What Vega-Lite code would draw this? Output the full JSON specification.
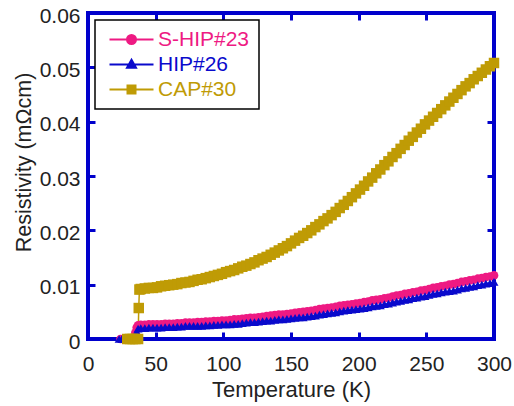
{
  "$schema": "https://vega.github.io/schema/vega-lite/v6.json",
  "width": 406,
  "height": 326,
  "autosize": "none",
  "padding": {"left": 88, "top": 13, "right": 20, "bottom": 67},
  "config": {
    "font": "Liberation Sans",
    "view": {"stroke": "#0000cc", "strokeWidth": 4},
    "legend": {
      "title": null, "orient": "top-left", "offset": 7, "padding": 9, "rowPadding": 3,
      "strokeColor": "#000000", "fillColor": "#ffffff", "cornerRadius": 0,
      "labelFontSize": 21, "labelOffset": 33, "symbolSize": 100, "labelLimit": 300
    }
  },
  "data": {"values": [
    {"s":"S-HIP#23","T":24,"r":0},{"s":"S-HIP#23","T":26,"r":0},{"s":"S-HIP#23","T":28,"r":0},{"s":"S-HIP#23","T":30,"r":0},{"s":"S-HIP#23","T":32,"r":0},{"s":"S-HIP#23","T":34,"r":0},{"s":"S-HIP#23","T":35,"r":0.0012},{"s":"S-HIP#23","T":36,"r":0.0021},{"s":"S-HIP#23","T":37,"r":0.0025},
    {"s":"S-HIP#23","T":39,"r":0.0026},{"s":"S-HIP#23","T":42,"r":0.0026},{"s":"S-HIP#23","T":45,"r":0.0027},{"s":"S-HIP#23","T":48,"r":0.0027},{"s":"S-HIP#23","T":51,"r":0.0027},{"s":"S-HIP#23","T":54,"r":0.0027},{"s":"S-HIP#23","T":57,"r":0.0028},{"s":"S-HIP#23","T":60,"r":0.0028},{"s":"S-HIP#23","T":63,"r":0.0028},{"s":"S-HIP#23","T":66,"r":0.0029},{"s":"S-HIP#23","T":69,"r":0.0029},{"s":"S-HIP#23","T":72,"r":0.0030},{"s":"S-HIP#23","T":75,"r":0.0030},{"s":"S-HIP#23","T":78,"r":0.0030},{"s":"S-HIP#23","T":81,"r":0.0031},{"s":"S-HIP#23","T":84,"r":0.0031},{"s":"S-HIP#23","T":87,"r":0.0032},{"s":"S-HIP#23","T":90,"r":0.0032},{"s":"S-HIP#23","T":93,"r":0.0033},{"s":"S-HIP#23","T":96,"r":0.0033},{"s":"S-HIP#23","T":99,"r":0.0034},{"s":"S-HIP#23","T":102,"r":0.0034},{"s":"S-HIP#23","T":105,"r":0.0035},{"s":"S-HIP#23","T":108,"r":0.0036},{"s":"S-HIP#23","T":111,"r":0.0036},{"s":"S-HIP#23","T":114,"r":0.0037},{"s":"S-HIP#23","T":117,"r":0.0038},{"s":"S-HIP#23","T":120,"r":0.0039},{"s":"S-HIP#23","T":123,"r":0.0039},{"s":"S-HIP#23","T":126,"r":0.0040},{"s":"S-HIP#23","T":129,"r":0.0041},{"s":"S-HIP#23","T":132,"r":0.0042},{"s":"S-HIP#23","T":135,"r":0.0043},{"s":"S-HIP#23","T":138,"r":0.0044},{"s":"S-HIP#23","T":141,"r":0.0045},{"s":"S-HIP#23","T":144,"r":0.0045},{"s":"S-HIP#23","T":147,"r":0.0046},{"s":"S-HIP#23","T":150,"r":0.0047},{"s":"S-HIP#23","T":153,"r":0.0048},{"s":"S-HIP#23","T":156,"r":0.0049},{"s":"S-HIP#23","T":159,"r":0.0050},{"s":"S-HIP#23","T":162,"r":0.0051},{"s":"S-HIP#23","T":165,"r":0.0052},{"s":"S-HIP#23","T":168,"r":0.0053},{"s":"S-HIP#23","T":171,"r":0.0055},{"s":"S-HIP#23","T":174,"r":0.0056},{"s":"S-HIP#23","T":177,"r":0.0057},{"s":"S-HIP#23","T":180,"r":0.0058},{"s":"S-HIP#23","T":183,"r":0.0059},{"s":"S-HIP#23","T":186,"r":0.0061},{"s":"S-HIP#23","T":189,"r":0.0062},{"s":"S-HIP#23","T":192,"r":0.0063},{"s":"S-HIP#23","T":195,"r":0.0064},{"s":"S-HIP#23","T":198,"r":0.0065},{"s":"S-HIP#23","T":201,"r":0.0066},{"s":"S-HIP#23","T":204,"r":0.0068},{"s":"S-HIP#23","T":207,"r":0.0069},{"s":"S-HIP#23","T":210,"r":0.0071},{"s":"S-HIP#23","T":213,"r":0.0072},{"s":"S-HIP#23","T":216,"r":0.0073},{"s":"S-HIP#23","T":219,"r":0.0075},{"s":"S-HIP#23","T":222,"r":0.0076},{"s":"S-HIP#23","T":225,"r":0.0078},{"s":"S-HIP#23","T":228,"r":0.0080},{"s":"S-HIP#23","T":231,"r":0.0081},{"s":"S-HIP#23","T":234,"r":0.0083},{"s":"S-HIP#23","T":237,"r":0.0084},{"s":"S-HIP#23","T":240,"r":0.0086},{"s":"S-HIP#23","T":243,"r":0.0087},{"s":"S-HIP#23","T":246,"r":0.0089},{"s":"S-HIP#23","T":249,"r":0.0090},{"s":"S-HIP#23","T":252,"r":0.0092},{"s":"S-HIP#23","T":255,"r":0.0094},{"s":"S-HIP#23","T":258,"r":0.0095},{"s":"S-HIP#23","T":261,"r":0.0097},{"s":"S-HIP#23","T":264,"r":0.0098},{"s":"S-HIP#23","T":267,"r":0.0100},{"s":"S-HIP#23","T":270,"r":0.0101},{"s":"S-HIP#23","T":273,"r":0.0103},{"s":"S-HIP#23","T":276,"r":0.0105},{"s":"S-HIP#23","T":279,"r":0.0106},{"s":"S-HIP#23","T":282,"r":0.0108},{"s":"S-HIP#23","T":285,"r":0.0109},{"s":"S-HIP#23","T":288,"r":0.0111},{"s":"S-HIP#23","T":291,"r":0.0112},{"s":"S-HIP#23","T":294,"r":0.0114},{"s":"S-HIP#23","T":297,"r":0.0115},{"s":"S-HIP#23","T":300,"r":0.0117},
    {"s":"HIP#26","T":23,"r":0},{"s":"HIP#26","T":25,"r":0},{"s":"HIP#26","T":27,"r":0},{"s":"HIP#26","T":29,"r":0},{"s":"HIP#26","T":31,"r":0},{"s":"HIP#26","T":33,"r":0},{"s":"HIP#26","T":35,"r":0},{"s":"HIP#26","T":36,"r":0.0013},{"s":"HIP#26","T":37,"r":0.0019},
    {"s":"HIP#26","T":39,"r":0.0020},{"s":"HIP#26","T":42,"r":0.0020},{"s":"HIP#26","T":45,"r":0.0021},{"s":"HIP#26","T":48,"r":0.0021},{"s":"HIP#26","T":51,"r":0.0021},{"s":"HIP#26","T":54,"r":0.0021},{"s":"HIP#26","T":57,"r":0.0022},{"s":"HIP#26","T":60,"r":0.0022},{"s":"HIP#26","T":63,"r":0.0022},{"s":"HIP#26","T":66,"r":0.0023},{"s":"HIP#26","T":69,"r":0.0023},{"s":"HIP#26","T":72,"r":0.0024},{"s":"HIP#26","T":75,"r":0.0024},{"s":"HIP#26","T":78,"r":0.0024},{"s":"HIP#26","T":81,"r":0.0024},{"s":"HIP#26","T":84,"r":0.0024},{"s":"HIP#26","T":87,"r":0.0025},{"s":"HIP#26","T":90,"r":0.0025},{"s":"HIP#26","T":93,"r":0.0026},{"s":"HIP#26","T":96,"r":0.0026},{"s":"HIP#26","T":99,"r":0.0027},{"s":"HIP#26","T":102,"r":0.0027},{"s":"HIP#26","T":105,"r":0.0027},{"s":"HIP#26","T":108,"r":0.0028},{"s":"HIP#26","T":111,"r":0.0028},{"s":"HIP#26","T":114,"r":0.0029},{"s":"HIP#26","T":117,"r":0.0030},{"s":"HIP#26","T":120,"r":0.0031},{"s":"HIP#26","T":123,"r":0.0031},{"s":"HIP#26","T":126,"r":0.0032},{"s":"HIP#26","T":129,"r":0.0033},{"s":"HIP#26","T":132,"r":0.0034},{"s":"HIP#26","T":135,"r":0.0034},{"s":"HIP#26","T":138,"r":0.0035},{"s":"HIP#26","T":141,"r":0.0036},{"s":"HIP#26","T":144,"r":0.0036},{"s":"HIP#26","T":147,"r":0.0037},{"s":"HIP#26","T":150,"r":0.0038},{"s":"HIP#26","T":153,"r":0.0039},{"s":"HIP#26","T":156,"r":0.0040},{"s":"HIP#26","T":159,"r":0.0040},{"s":"HIP#26","T":162,"r":0.0041},{"s":"HIP#26","T":165,"r":0.0042},{"s":"HIP#26","T":168,"r":0.0043},{"s":"HIP#26","T":171,"r":0.0045},{"s":"HIP#26","T":174,"r":0.0046},{"s":"HIP#26","T":177,"r":0.0047},{"s":"HIP#26","T":180,"r":0.0048},{"s":"HIP#26","T":183,"r":0.0049},{"s":"HIP#26","T":186,"r":0.0051},{"s":"HIP#26","T":189,"r":0.0052},{"s":"HIP#26","T":192,"r":0.0053},{"s":"HIP#26","T":195,"r":0.0054},{"s":"HIP#26","T":198,"r":0.0055},{"s":"HIP#26","T":201,"r":0.0056},{"s":"HIP#26","T":204,"r":0.0057},{"s":"HIP#26","T":207,"r":0.0058},{"s":"HIP#26","T":210,"r":0.0060},{"s":"HIP#26","T":213,"r":0.0061},{"s":"HIP#26","T":216,"r":0.0062},{"s":"HIP#26","T":219,"r":0.0064},{"s":"HIP#26","T":222,"r":0.0065},{"s":"HIP#26","T":225,"r":0.0067},{"s":"HIP#26","T":228,"r":0.0069},{"s":"HIP#26","T":231,"r":0.0070},{"s":"HIP#26","T":234,"r":0.0072},{"s":"HIP#26","T":237,"r":0.0073},{"s":"HIP#26","T":240,"r":0.0075},{"s":"HIP#26","T":243,"r":0.0076},{"s":"HIP#26","T":246,"r":0.0078},{"s":"HIP#26","T":249,"r":0.0079},{"s":"HIP#26","T":252,"r":0.0081},{"s":"HIP#26","T":255,"r":0.0083},{"s":"HIP#26","T":258,"r":0.0084},{"s":"HIP#26","T":261,"r":0.0086},{"s":"HIP#26","T":264,"r":0.0087},{"s":"HIP#26","T":267,"r":0.0088},{"s":"HIP#26","T":270,"r":0.0089},{"s":"HIP#26","T":273,"r":0.0091},{"s":"HIP#26","T":276,"r":0.0093},{"s":"HIP#26","T":279,"r":0.0094},{"s":"HIP#26","T":282,"r":0.0096},{"s":"HIP#26","T":285,"r":0.0097},{"s":"HIP#26","T":288,"r":0.0099},{"s":"HIP#26","T":291,"r":0.0100},{"s":"HIP#26","T":294,"r":0.0102},{"s":"HIP#26","T":297,"r":0.0103},{"s":"HIP#26","T":300,"r":0.0105},
    {"s":"CAP#30","T":29,"r":0},{"s":"CAP#30","T":31,"r":0},{"s":"CAP#30","T":33,"r":0},{"s":"CAP#30","T":35,"r":0},{"s":"CAP#30","T":37,"r":0},{"s":"CAP#30","T":37.5,"r":0.0057},{"s":"CAP#30","T":38,"r":0.0091},
    {"s":"CAP#30","T":39,"r":0.0092},{"s":"CAP#30","T":42,"r":0.0093},{"s":"CAP#30","T":45,"r":0.0094},{"s":"CAP#30","T":48,"r":0.0094},{"s":"CAP#30","T":51,"r":0.0095},{"s":"CAP#30","T":54,"r":0.0097},{"s":"CAP#30","T":57,"r":0.0098},{"s":"CAP#30","T":60,"r":0.0099},{"s":"CAP#30","T":63,"r":0.0100},{"s":"CAP#30","T":66,"r":0.0101},{"s":"CAP#30","T":69,"r":0.0103},{"s":"CAP#30","T":72,"r":0.0104},{"s":"CAP#30","T":75,"r":0.0105},{"s":"CAP#30","T":78,"r":0.0107},{"s":"CAP#30","T":81,"r":0.0109},{"s":"CAP#30","T":84,"r":0.0110},{"s":"CAP#30","T":87,"r":0.0112},{"s":"CAP#30","T":90,"r":0.0114},{"s":"CAP#30","T":93,"r":0.0116},{"s":"CAP#30","T":96,"r":0.0118},{"s":"CAP#30","T":99,"r":0.0120},{"s":"CAP#30","T":102,"r":0.0123},{"s":"CAP#30","T":105,"r":0.0125},{"s":"CAP#30","T":108,"r":0.0127},{"s":"CAP#30","T":111,"r":0.0130},{"s":"CAP#30","T":114,"r":0.0133},{"s":"CAP#30","T":117,"r":0.0135},{"s":"CAP#30","T":120,"r":0.0138},{"s":"CAP#30","T":123,"r":0.0141},{"s":"CAP#30","T":126,"r":0.0145},{"s":"CAP#30","T":129,"r":0.0148},{"s":"CAP#30","T":132,"r":0.0151},{"s":"CAP#30","T":135,"r":0.0155},{"s":"CAP#30","T":138,"r":0.0159},{"s":"CAP#30","T":141,"r":0.0163},{"s":"CAP#30","T":144,"r":0.0167},{"s":"CAP#30","T":147,"r":0.0171},{"s":"CAP#30","T":150,"r":0.0176},{"s":"CAP#30","T":153,"r":0.0181},{"s":"CAP#30","T":156,"r":0.0186},{"s":"CAP#30","T":159,"r":0.0190},{"s":"CAP#30","T":162,"r":0.0195},{"s":"CAP#30","T":165,"r":0.0200},{"s":"CAP#30","T":168,"r":0.0206},{"s":"CAP#30","T":171,"r":0.0211},{"s":"CAP#30","T":174,"r":0.0217},{"s":"CAP#30","T":177,"r":0.0222},{"s":"CAP#30","T":180,"r":0.0228},{"s":"CAP#30","T":183,"r":0.0234},{"s":"CAP#30","T":186,"r":0.0241},{"s":"CAP#30","T":189,"r":0.0247},{"s":"CAP#30","T":192,"r":0.0254},{"s":"CAP#30","T":195,"r":0.0261},{"s":"CAP#30","T":198,"r":0.0268},{"s":"CAP#30","T":201,"r":0.0275},{"s":"CAP#30","T":204,"r":0.0282},{"s":"CAP#30","T":207,"r":0.0290},{"s":"CAP#30","T":210,"r":0.0297},{"s":"CAP#30","T":213,"r":0.0305},{"s":"CAP#30","T":216,"r":0.0312},{"s":"CAP#30","T":219,"r":0.0320},{"s":"CAP#30","T":222,"r":0.0327},{"s":"CAP#30","T":225,"r":0.0335},{"s":"CAP#30","T":228,"r":0.0342},{"s":"CAP#30","T":231,"r":0.0350},{"s":"CAP#30","T":234,"r":0.0357},{"s":"CAP#30","T":237,"r":0.0365},{"s":"CAP#30","T":240,"r":0.0372},{"s":"CAP#30","T":243,"r":0.0380},{"s":"CAP#30","T":246,"r":0.0387},{"s":"CAP#30","T":249,"r":0.0395},{"s":"CAP#30","T":252,"r":0.0402},{"s":"CAP#30","T":255,"r":0.0409},{"s":"CAP#30","T":258,"r":0.0416},{"s":"CAP#30","T":261,"r":0.0423},{"s":"CAP#30","T":264,"r":0.0430},{"s":"CAP#30","T":267,"r":0.0437},{"s":"CAP#30","T":270,"r":0.0444},{"s":"CAP#30","T":273,"r":0.0451},{"s":"CAP#30","T":276,"r":0.0458},{"s":"CAP#30","T":279,"r":0.0465},{"s":"CAP#30","T":282,"r":0.0471},{"s":"CAP#30","T":285,"r":0.0478},{"s":"CAP#30","T":288,"r":0.0484},{"s":"CAP#30","T":291,"r":0.0490},{"s":"CAP#30","T":294,"r":0.0496},{"s":"CAP#30","T":297,"r":0.0502},{"s":"CAP#30","T":300,"r":0.0508}
  ]},
  "layer": [
    {
      "mark": {"type": "line", "strokeWidth": 1.5},
      "encoding": {
        "x": {"field": "T", "type": "quantitative", "scale": {"domain": [0, 300], "nice": false, "zero": false},
              "axis": {"orient": "top", "values": [0, 50, 100, 150, 200, 250, 300], "labels": false, "title": null, "domain": false, "grid": false, "tickSize": -7, "tickWidth": 3, "tickColor": "#0000cc"}},
        "y": {"field": "r", "type": "quantitative", "scale": {"domain": [0, 0.06], "nice": false},
              "axis": {"orient": "right", "values": [0, 0.01, 0.02, 0.03, 0.04, 0.05, 0.06], "labels": false, "title": null, "domain": false, "grid": false, "tickSize": -7, "tickWidth": 3, "tickColor": "#0000cc"}},
        "color": {"field": "s", "type": "nominal",
                  "scale": {"domain": ["S-HIP#23", "HIP#26", "CAP#30"], "range": ["#ee1a83", "#0a0acc", "#bf9b05"]},
                  "legend": {"encode": {
                               "legend": {"update": {"strokeWidth": {"value": 1.5}}},
                               "symbols": {"update": {
                                 "shape": {"signal": "datum.value === 'S-HIP#23' ? 'M-1,0H7.8M2.5,0A0.9,0.9,0,1,0,4.3,0A0.9,0.9,0,1,0,2.5,0Z' : (datum.value === 'HIP#26' ? 'M-1,0H7.8M3.4,-0.95L4.3,0.65L2.5,0.65Z' : 'M-1,0H7.8M2.6,-0.8H4.2V0.8H2.6Z')"},
                                 "fill": {"signal": "scale('color', datum.value)"},
                                 "stroke": {"signal": "scale('color', datum.value)"},
                                 "strokeWidth": {"value": 2},
                                 "size": {"value": 100},
                                 "opacity": {"value": 1}
                               }},
                               "labels": {"update": {"fill": {"signal": "scale('color', datum.value)"}}}
                             }}},
        "detail": {"field": "s"}
      }
    },
    {
      "transform": [{"filter": "datum.s === 'S-HIP#23'"}],
      "mark": {"type": "point", "filled": true, "opacity": 1, "strokeWidth": 0, "shape": "circle", "size": 75},
      "encoding": {
        "x": {"field": "T", "type": "quantitative",
              "axis": {"orient": "bottom", "values": [0, 50, 100, 150, 200, 250, 300], "title": "Temperature (K)", "domain": false, "grid": false,
                       "tickSize": -7, "tickWidth": 3, "tickColor": "#0000cc", "labelFontSize": 21, "labelColor": "#222222", "labelPadding": 21, "labelFlush": false,
                       "titleFontSize": 22, "titleFontWeight": "normal", "titleColor": "#222222", "titlePadding": 5}},
        "y": {"field": "r", "type": "quantitative",
              "axis": {"orient": "left", "values": [0, 0.01, 0.02, 0.03, 0.04, 0.05, 0.06], "format": ".2~f", "title": "Resistivity (mΩcm)", "domain": false, "grid": false,
                       "tickSize": -7, "tickWidth": 3, "tickColor": "#0000cc", "labelFontSize": 21, "labelColor": "#222222", "labelPadding": 15, "labelOffset": 3, "labelFlush": false,
                       "titleFontSize": 21.5, "titleFontWeight": "normal", "titleColor": "#222222", "titlePadding": 4, "titleY": 149}},
        "color": {"field": "s", "type": "nominal"}
      }
    },
    {
      "transform": [{"filter": "datum.s === 'HIP#26'"}],
      "mark": {"type": "point", "filled": true, "opacity": 1, "strokeWidth": 0, "shape": "triangle-up", "size": 80},
      "encoding": {
        "x": {"field": "T", "type": "quantitative", "axis": null},
        "y": {"field": "r", "type": "quantitative", "axis": null},
        "color": {"field": "s", "type": "nominal"}
      }
    },
    {
      "transform": [{"filter": "datum.s === 'CAP#30'"}],
      "mark": {"type": "point", "filled": true, "opacity": 1, "strokeWidth": 0, "shape": "square", "size": 110},
      "encoding": {
        "x": {"field": "T", "type": "quantitative", "axis": null},
        "y": {"field": "r", "type": "quantitative", "axis": null},
        "color": {"field": "s", "type": "nominal"}
      }
    }
  ],
  "resolve": {"axis": {"x": "independent", "y": "independent"}}
}
